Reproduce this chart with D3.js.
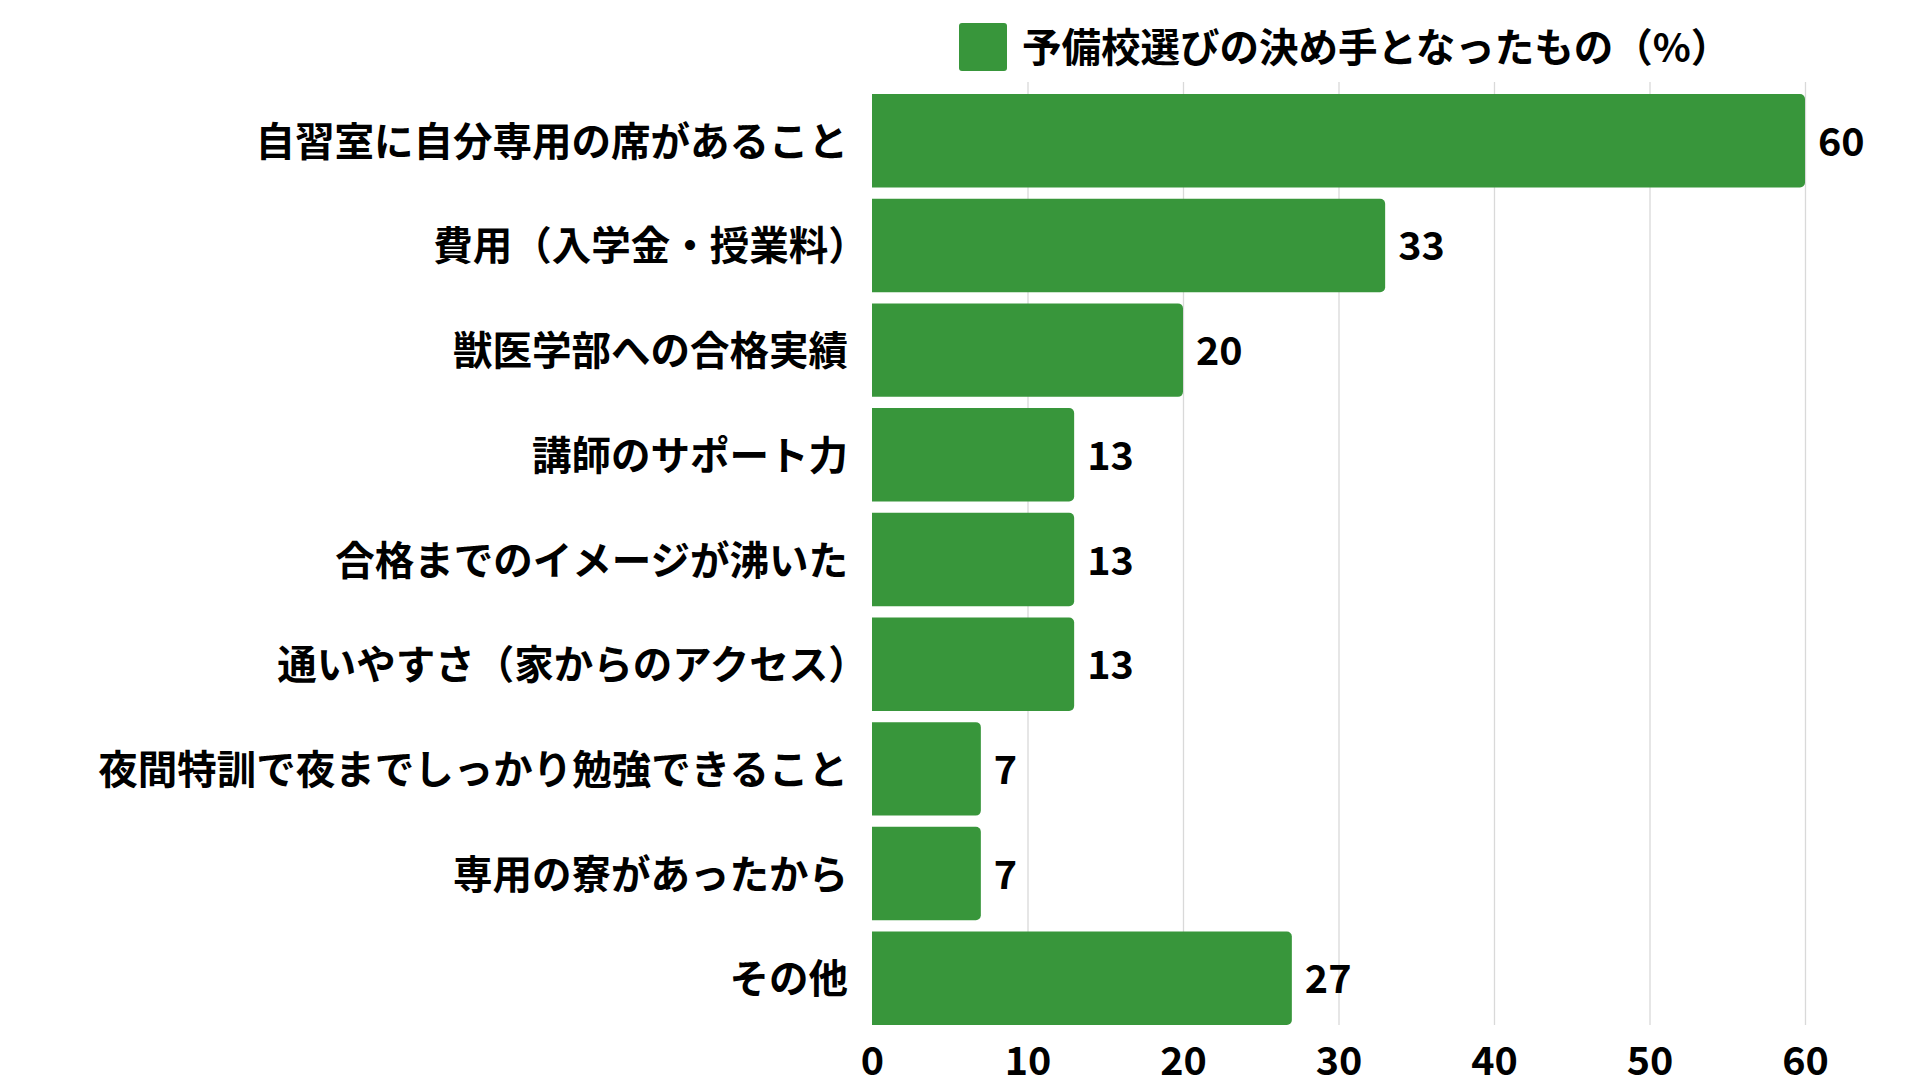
<!DOCTYPE html>
<html>
<head>
<meta charset="utf-8">
<script src="https://cdn.jsdelivr.net/npm/d3@7"></script>
<style>
  html, body { margin: 0; padding: 0; background: #fff; }
  svg { display: block; }
  text { font-family: "Noto Sans CJK JP", "Noto Sans", sans-serif; font-weight: 700; fill: #000; }
</style>
</head>
<body>
<svg id="chart"></svg>
<script>
// data
const categories = [
  '自習室に自分専用の席があること',
  '費用（入学金・授業料）',
  '獣医学部への合格実績',
  '講師のサポート力',
  '合格までのイメージが沸いた',
  '通いやすさ（家からのアクセス）',
  '夜間特訓で夜までしっかり勉強できること',
  '専用の寮があったから',
  'その他'
]
const values = [60, 33, 20, 13, 13, 13, 7, 7, 27]
const xTicks = [0, 10, 20, 30, 40, 50, 60]
const seriesName = '予備校選びの決め手となったもの（%）'

const W = 1920, H = 1080
const green = '#38963b'
const fontSize = 39.5

const svg = d3.select('#chart').attr('width', W).attr('height', H)

// scales
const x = d3.scaleLinear().domain([0, 60]).range([872, 1805])
const y = d3.scaleBand().domain(categories).range([94, 1025]).paddingInner(0.107).paddingOuter(0)

// gridlines + bottom tick labels
const xAxis = svg.append('g')
    .attr('transform', `translate(0,${1025})`)
    .call(d3.axisBottom(x).tickValues(xTicks).tickSize(-(1025 - 82)).tickPadding(22))
xAxis.select('.domain').remove()
xAxis.selectAll('.tick line').attr('stroke', '#d9d9d9').attr('stroke-width', 1.3)
xAxis.selectAll('.tick').filter(d => d === 0).select('line').remove()
xAxis.selectAll('text').style('font-size', fontSize + 'px').attr('fill', '#000')
    .style('font-family', '"Noto Sans CJK JP", sans-serif').style('font-weight', 700)

// category labels (a closing bracket at the end is trimmed to half width)
const yAxis = svg.append('g')
    .attr('transform', `translate(${872},0)`)
    .call(d3.axisLeft(y).tickSize(0).tickPadding(24))
yAxis.select('.domain').remove()
yAxis.selectAll('text').style('font-size', fontSize + 'px').attr('fill', '#000').attr('dy', '0.38em')
    .attr('dx', d => d.endsWith('）') ? '0.5em' : 0)
    .style('font-family', '"Noto Sans CJK JP", sans-serif').style('font-weight', 700)

// bars with rounded right end
function barPath(x0, y0, w, h, r) {
    const p = d3.path()
    r = Math.min(r, w / 2, h / 2)
    p.moveTo(x0, y0)
    p.lineTo(x0 + w - r, y0)
    p.arcTo(x0 + w, y0, x0 + w, y0 + r, r)
    p.lineTo(x0 + w, y0 + h - r)
    p.arcTo(x0 + w, y0 + h, x0 + w - r, y0 + h, r)
    p.lineTo(x0, y0 + h)
    p.closePath()
    return p.toString()
}

const rows = categories.map((c, i) => ({ cat: c, value: values[i] }))

svg.append('g').selectAll('path').data(rows).join('path')
    .attr('d', d => barPath(x(0), y(d.cat), x(d.value) - x(0), y.bandwidth(), 5))
    .attr('fill', green)

// value labels
svg.append('g').selectAll('text').data(rows).join('text')
    .attr('x', d => x(d.value) + 13)
    .attr('y', d => y(d.cat) + y.bandwidth() / 2)
    .attr('dy', '0.38em')
    .style('font-size', fontSize + 'px')
    .text(d => d.value)

// legend
const legend = svg.append('g')
legend.append('rect').attr('x', 959).attr('y', 23).attr('width', 48).attr('height', 48).attr('rx', 3).attr('fill', green)
legend.append('text').attr('x', 1022).attr('y', 47).attr('dy', '0.38em')
    .style('font-size', fontSize + 'px').text(seriesName)
</script>
</body>
</html>
